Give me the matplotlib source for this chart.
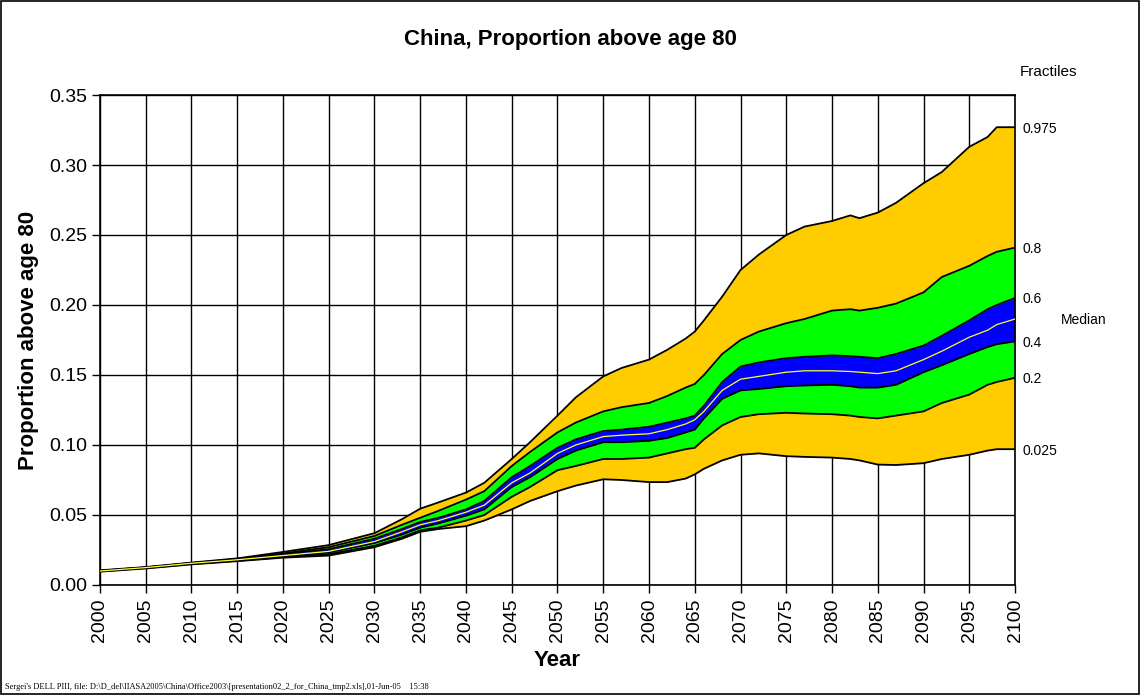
import numpy as np
import matplotlib.pyplot as plt
from matplotlib.patches import Rectangle

plt.rcParams['font.family'] = ['Liberation Sans', 'DejaVu Sans']

years = [2000, 2005, 2010, 2015, 2020, 2025, 2030, 2033, 2035, 2037, 2040, 2042, 2045,
         2047, 2050, 2052, 2055, 2057, 2060, 2062, 2064, 2065, 2066, 2068, 2070, 2072,
         2075, 2077, 2080, 2082, 2083, 2085, 2087, 2090, 2092, 2095, 2097, 2098, 2100]

q975 = [.0105, .0128, .016, .019, .0236, .0285, .037, .047, .0545, .059, .066, .073, .090,
        .102, .121, .134, .149, .155, .161, .168, .176, .181, .189, .206, .225, .236,
        .250, .256, .260, .264, .262, .266, .273, .287, .295, .313, .320, .327, .327]
q80 = [.0102, .0126, .0157, .0186, .0225, .027, .035, .043, .048, .053, .061, .067, .085,
       .095, .109, .116, .124, .127, .130, .135, .141, .1436, .150, .165, .175, .181,
       .187, .190, .196, .197, .196, .198, .201, .209, .220, .228, .235, .238, .241]
q60 = [.0101, .0125, .0156, .0183, .0222, .0255, .033, .040, .045, .048, .054, .060, .077,
       .085, .098, .104, .110, .111, .113, .116, .119, .121, .128, .145, .156, .159,
       .162, .163, .164, .1635, .163, .162, .165, .171, .178, .189, .197, .200, .205]
median = [.0100, .0124, .0155, .018, .021, .024, .031, .038, .043, .046, .052, .057, .073,
          .080, .094, .100, .106, .107, .108, .111, .115, .118, .124, .139, .147, .149,
          .152, .153, .153, .1525, .152, .151, .153, .161, .167, .177, .182, .186, .190]
q40 = [.0099, .0123, .0153, .0177, .0205, .0232, .030, .036, .041, .044, .0495, .054, .070,
       .077, .090, .096, .102, .102, .103, .105, .109, .111, .119, .133, .139, .140,
       .142, .1425, .143, .142, .141, .141, .143, .152, .157, .165, .170, .172, .174]
q20 = [.0098, .0121, .015, .0173, .020, .022, .028, .034, .039, .041, .046, .050, .063,
       .070, .082, .085, .090, .090, .091, .094, .097, .098, .104, .114, .120, .122,
       .123, .1225, .122, .121, .120, .119, .121, .124, .130, .136, .143, .145, .148]
q025 = [.0095, .0118, .0147, .017, .0195, .021, .027, .033, .038, .040, .042, .046, .054,
        .060, .067, .071, .0755, .075, .0735, .0735, .076, .079, .083, .089, .093, .094,
        .092, .0915, .091, .090, .089, .086, .0857, .087, .090, .093, .096, .097, .097]

fractile_labels = ['0.975', '0.8', '0.6', '0.4', '0.2', '0.025']

fig = plt.figure(figsize=(11.41, 6.95), dpi=100)
ax = fig.add_axes([0.0876, 0.1583, 0.8020, 0.7050])

gold = '#FFCC00'
ax.fill_between(years, q025, q20, color=gold, lw=0, zorder=2)
ax.fill_between(years, q80, q975, color=gold, lw=0, zorder=2)
ax.fill_between(years, q20, q40, color='#00FF00', lw=0, zorder=2)
ax.fill_between(years, q60, q80, color='#00FF00', lw=0, zorder=2)
ax.fill_between(years, q40, q60, color='#0000FF', lw=0, zorder=2)
for s in [q975, q80, q60, q40, q20, q025]:
    ax.plot(years, s, color='black', lw=1.3, zorder=3)
ax.plot(years, median, color='#FFFF33', lw=0.9, zorder=4)

ax.set_xlim(2000, 2100)
ax.set_ylim(0, 0.35)
ax.set_xticks(np.arange(2000, 2101, 5))
ax.set_yticks(np.arange(0, 0.351, 0.05))
ax.set_yticklabels(['%.2f' % v for v in np.arange(0, 0.351, 0.05)], fontsize=14)
ax.set_xticklabels([str(y) for y in range(2000, 2101, 5)], rotation=90, fontsize=14)
ax.tick_params(direction='out', length=6, width=1, color='black')
ax.grid(True, color='black', lw=1, zorder=1)
ax.set_axisbelow(True)
for sp in ax.spines.values():
    sp.set_linewidth(1.2)

ax.set_xlabel('Year', fontsize=16, fontweight='bold', labelpad=6)
ax.set_ylabel('Proportion above age 80', fontsize=16, fontweight='bold', labelpad=7)
fig.text(0.5, 0.943, 'China, Proportion above age 80', ha='center', va='center',
         fontsize=16, fontweight='bold')

# fractile labels at the right end
ends = [q975[-1], q80[-1], q60[-1], q40[-1], q20[-1], q025[-1]]
for lab, v in zip(fractile_labels, ends):
    ax.text(2100.8, v - 0.001, lab, fontsize=10, va='center', ha='left', clip_on=False)
ax.text(2105, median[-1] - 0.001, 'Median', fontsize=10, va='center', ha='left', clip_on=False)
fig.text(0.894, 0.896, 'Fractiles', fontsize=11, va='center', ha='left')

fig.text(0.004, 0.012, "Sergei's DELL PIII, file: D:\\D_del\\IIASA2005\\China\\Office2003\\"
         "[presentation02_2_for_China_tmp2.xls],01-Jun-05    15:38",
         fontsize=6, family=['Liberation Serif', 'DejaVu Serif'], va='center')

fig.patches.append(Rectangle((0.001, 0.002), 0.997, 0.996, transform=fig.transFigure,
                             fill=False, edgecolor='black', lw=1.2))

fig.savefig('out.png', dpi=100)
